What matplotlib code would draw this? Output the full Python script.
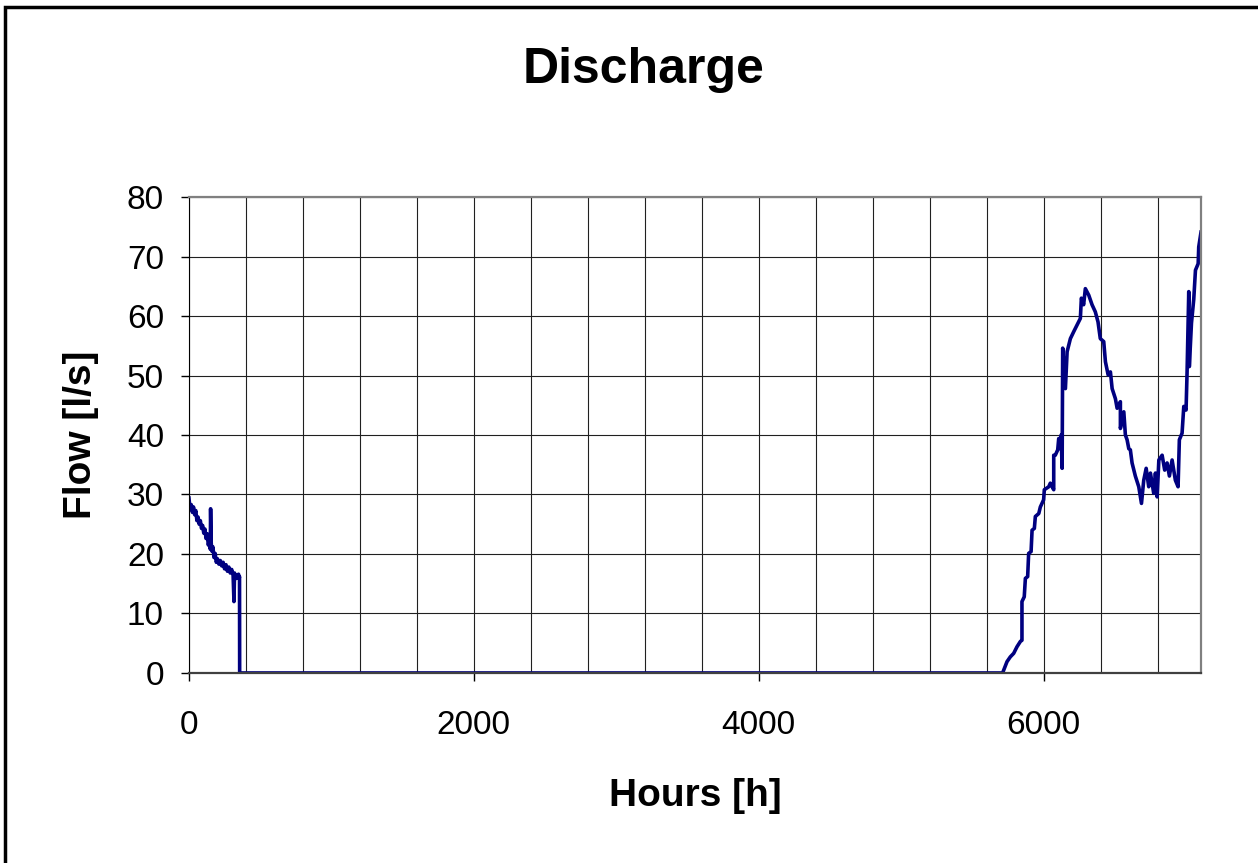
import matplotlib.pyplot as plt
from matplotlib.patches import Rectangle
from matplotlib.ticker import MultipleLocator

plt.rcParams['font.family'] = ['Liberation Sans', 'DejaVu Sans']

# hourly discharge: early recession, dry period, wet season
hours_early = [0, 8, 16, 24, 32, 40, 48, 56, 64, 72, 80, 88, 96, 104, 112, 120,
               128, 136, 144, 150, 152, 156, 160, 168, 176, 184, 192, 200, 210,
               220, 230, 240, 250, 260, 270, 280, 290, 300, 310, 316, 320, 324,
               330, 340, 348, 352, 355, 356]
flow_early = [29.4, 27.5, 28.3, 27.0, 27.9, 26.6, 27.3, 25.6, 26.2, 25.0, 25.6,
              24.3, 24.8, 23.5, 24.2, 22.6, 23.4, 21.5, 22.3, 20.8, 27.6, 22.0,
              20.5, 21.2, 19.4, 20.1, 18.6, 19.2, 18.3, 18.9, 18.0, 18.6, 17.5,
              18.2, 17.1, 17.8, 16.8, 17.4, 16.4, 12.0, 16.8, 15.8, 16.5, 16.0,
              16.6, 15.9, 16.2, 0.0]

hours_dry = [360, 2000, 4000, 5712]
flow_dry = [0.0, 0.0, 0.0, 0.0]

hours_wet = [5722, 5731, 5743, 5766, 5790, 5813, 5837, 5848, 5848, 5864, 5872, 5888,
             5895, 5912, 5919, 5935, 5942, 5966, 5977, 6000, 6005, 6036, 6047,
             6071, 6071, 6082, 6099, 6106, 6113, 6118, 6123, 6130, 6134, 6153,
             6165, 6188, 6212, 6235, 6258, 6265, 6281, 6293, 6317, 6340, 6363,
             6382, 6398, 6422, 6434, 6453, 6469, 6481, 6504, 6516, 6539, 6539,
             6563, 6574, 6586, 6598, 6609, 6621, 6644, 6668, 6687, 6703, 6720,
             6738, 6750, 6773, 6785, 6797, 6809, 6832, 6850, 6867, 6883, 6902,
             6925, 6944, 6953, 6972, 6984, 7000, 7007, 7019, 7023, 7038, 7054,
             7066, 7085, 7089, 7105]
flow_wet = [0.6, 1.1, 1.9, 2.7, 3.3, 4.4, 5.3, 5.5, 12.0, 12.8, 15.9, 16.2, 20.1,
            20.4, 24.0, 24.3, 26.3, 26.8, 27.9, 29.1, 30.8, 31.3, 31.9, 30.8,
            36.6, 36.6, 37.5, 39.4, 39.1, 37.7, 40.0, 34.4, 54.6, 47.8, 54.0,
            56.2, 57.4, 58.5, 59.6, 63.0, 61.9, 64.6, 63.5, 61.9, 60.7, 59.0,
            56.2, 55.7, 52.3, 50.1, 50.6, 47.8, 46.1, 44.5, 45.6, 41.1, 43.9,
            40.0, 39.2, 37.7, 37.5, 35.3, 33.1, 31.3, 28.5, 32.4, 34.4, 31.3,
            33.6, 30.2, 33.6, 29.6, 35.8, 36.6, 34.1, 35.3, 33.1, 35.8, 32.4,
            31.3, 39.2, 40.3, 44.8, 44.2, 50.4, 64.1, 51.5, 58.8, 62.8, 67.7,
            68.8, 71.6, 74.1]

hours = hours_early + hours_dry + hours_wet
flow = flow_early + flow_dry + flow_wet

fig = plt.figure(figsize=(12.58, 8.63), dpi=100)
ax = fig.add_axes([0.1502, 0.2202, 0.8045, 0.5515])

ax.plot(hours, flow, color='#000080', linewidth=2.6)

ax.set_xlim(0, 7105)
ax.set_ylim(0, 80)
ax.xaxis.set_major_locator(MultipleLocator(2000))
ax.xaxis.set_minor_locator(MultipleLocator(400))
ax.yaxis.set_major_locator(MultipleLocator(10))
ax.grid(True, which='both', color='#202020', linewidth=0.8)
ax.tick_params(axis='both', which='major', direction='out', length=6,
               width=1, labelsize=24, color='black')
ax.tick_params(axis='x', which='major', pad=21)
ax.tick_params(axis='y', which='major', pad=12)
ax.tick_params(axis='x', which='minor', length=0)

ax.spines['top'].set_color('#808080')
ax.spines['right'].set_color('#808080')
ax.spines['top'].set_linewidth(1.6)
ax.spines['right'].set_linewidth(1.6)
ax.spines['left'].set_color('black')
ax.spines['bottom'].set_color('#404040')
ax.spines['bottom'].set_linewidth(1.6)

ax.set_xlabel('Hours [h]', fontsize=28, fontweight='bold', labelpad=26)
ax.set_ylabel('Flow [l/s]', fontsize=28, fontweight='bold', labelpad=20)
fig.text(644 / 1258, 1 - 70 / 863, 'Discharge', fontsize=36, fontweight='bold',
         ha='center', va='center')

# outer chart border, clipped at right and bottom like the original
fig.patches.append(Rectangle((0.004, -0.1), 1.2, 1.0919, fill=False,
                             edgecolor='black', linewidth=2.5,
                             transform=fig.transFigure))

fig.savefig('out.png', dpi=100)
